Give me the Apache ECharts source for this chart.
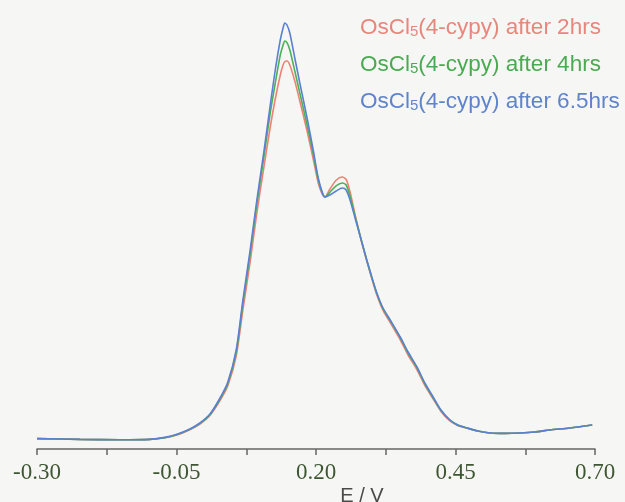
<!DOCTYPE html>
<html>
<head>
<meta charset="utf-8">
<script src="https://cdn.jsdelivr.net/npm/echarts@6/dist/echarts.min.js"></script>
<style>
  html, body { margin: 0; padding: 0; background: #f6f6f4; }
  #chart { width: 625px; height: 502px; }
</style>
</head>
<body>
<div id="chart"></div>
<script>
// Potential (V) sampled along the sweep
const potential = [
  -0.300, -0.223, -0.151, -0.098, -0.071, -0.049, -0.026, -0.008,
   0.010,  0.028,  0.042,  0.057,  0.069,  0.082,  0.094,  0.107,
   0.118,  0.127,  0.136,  0.141,  0.144,  0.148,  0.153,  0.162,
   0.171,  0.184,  0.195,  0.204,  0.211,  0.216,  0.225,  0.236,
   0.247,  0.254,  0.261,  0.270,  0.281,  0.291,  0.300,  0.309,
   0.320,  0.333,  0.351,  0.365,  0.381,  0.395,  0.410,  0.424,
   0.440,  0.454,  0.471,  0.490,  0.512,  0.539,  0.566,  0.592,
   0.619,  0.655,  0.695
];

// Current response (arbitrary units) for each sample time
const after2hrs = [
  2.6, 2.4, 2.3, 2.4, 2.8, 3.5, 4.8, 6.2,
  8.4, 12.1, 15.8, 23.2, 34.8, 46.8, 59.0, 70.8,
  80.5, 87.5, 93.5, 96.0, 96.8, 97.0, 96.0, 92.0,
  87.0, 79.5, 72.5, 66.5, 63.8, 63.0, 65.0, 67.2,
  68.0, 67.4, 64.3, 58.6, 52.2, 47.0, 42.6, 38.5,
  34.7, 31.6, 27.3, 23.5, 19.8, 15.9, 12.5, 9.4,
  7.0, 5.9, 5.2, 4.5, 4.0, 3.9, 4.0, 4.25,
  4.75, 5.25, 6.0
];
const after4hrs = [
  2.6, 2.4, 2.3, 2.4, 2.8, 3.6, 4.9, 6.4,
  8.6, 12.5, 16.4, 24.2, 36.4, 48.8, 61.2, 73.4,
  84.0, 91.5, 98.5, 101.0, 102.0, 101.6, 99.8, 94.5,
  89.0, 81.0, 73.8, 67.3, 64.1, 63.0, 64.2, 65.8,
  66.5, 66.0, 63.2, 58.2, 52.3, 47.2, 42.9, 38.9,
  35.1, 32.1, 27.8, 24.0, 20.3, 16.3, 12.8, 9.6,
  7.2, 6.0, 5.25, 4.5, 4.0, 3.9, 4.0, 4.25,
  4.75, 5.25, 6.0
];
const after6_5hrs = [
  2.6, 2.4, 2.3, 2.4, 2.9, 3.7, 5.0, 6.5,
  8.75, 12.75, 16.75, 24.75, 37.25, 49.75, 62.25, 74.75,
  86.0, 94.75, 102.25, 105.25, 106.5, 106.0, 104.0, 97.75,
  91.5, 82.75, 74.75, 67.75, 64.25, 63.0, 63.5, 64.5,
  65.25, 64.75, 62.25, 57.75, 52.25, 47.25, 43.0, 39.0,
  35.25, 32.25, 28.0, 24.25, 20.5, 16.5, 13.0, 9.75,
  7.25, 6.0, 5.25, 4.5, 4.0, 3.9, 4.0, 4.25,
  4.75, 5.25, 6.0
];

const seriesNames = [
  'OsCl₅(4-cypy) after 2hrs',
  'OsCl₅(4-cypy) after 4hrs',
  'OsCl₅(4-cypy) after 6.5hrs'
];
const seriesColors = ['#ef8275', '#4cb258', '#5b80d2'];
const legendColors = ['#e9867c', '#4aaa52', '#5f84cc'];

// Labelled ticks on the potential axis, plus the unlabelled ones between them
const tickLabels = [-0.30, -0.05, 0.20, 0.45, 0.70];
const minorTicks = [-0.175, 0.075, 0.325, 0.575];

const curves = [after2hrs, after4hrs, after6_5hrs];

const chart = echarts.init(document.getElementById('chart'));

const sans = 'Liberation Sans, Arial, sans-serif';

chart.setOption({
  backgroundColor: '#f6f6f4',
  animation: false,
  grid: { left: 37, right: 30, top: 9, bottom: 53, containLabel: false, outerBoundsMode: 'none' },
  legend: {
    orient: 'vertical',
    left: 355,
    top: 16,
    padding: 0,
    itemGap: 14,
    itemWidth: 0,
    itemHeight: 23,
    icon: 'none',
    selectedMode: false,
    data: seriesNames.map((n, i) => ({ name: n, textStyle: { color: legendColors[i] } })),
    formatter: name => {
      const parts = name.split('₅');
      return '{n|' + parts[0] + '}{s|5}{n|' + parts[1] + '}';
    },
    textStyle: {
      fontFamily: sans,
      fontSize: 22.5,
      rich: {
        n: { fontFamily: sans, fontSize: 22.5, lineHeight: 23 },
        s: { fontFamily: sans, fontSize: 15, lineHeight: 23, verticalAlign: 'bottom' }
      }
    }
  },
  xAxis: {
    type: 'value',
    min: -0.30,
    max: 0.70,
    name: 'E / V',
    nameLocation: 'middle',
    nameGap: 37,
    nameMoveOverlap: false,
    nameTextStyle: {
      fontFamily: sans,
      fontSize: 20,
      color: '#4a4a48',
      padding: [0, 0, 0, 92]
    },
    splitLine: { show: false },
    axisLine: { lineStyle: { color: '#666663', width: 1.5 } },
    axisTick: {
      show: true,
      length: 6,
      lineStyle: { color: '#666663', width: 1.5 },
      customValues: tickLabels.concat(minorTicks)
    },
    axisLabel: {
      customValues: tickLabels,
      margin: 12,
      fontFamily: 'Liberation Serif, Times New Roman, serif',
      fontSize: 23,
      color: '#3e5632',
      formatter: v => v.toFixed(2)
    }
  },
  yAxis: {
    type: 'value',
    min: 0,
    max: 110,
    show: false
  },
  series: curves.map((ys, i) => ({
    name: seriesNames[i],
    type: 'line',
    showSymbol: false,
    smooth: 0.25,
    color: seriesColors[i],
    lineStyle: { width: 1.6, color: seriesColors[i] },
    data: potential.map((x, k) => [x, ys[k]])
  }))
});
</script>
</body>
</html>
